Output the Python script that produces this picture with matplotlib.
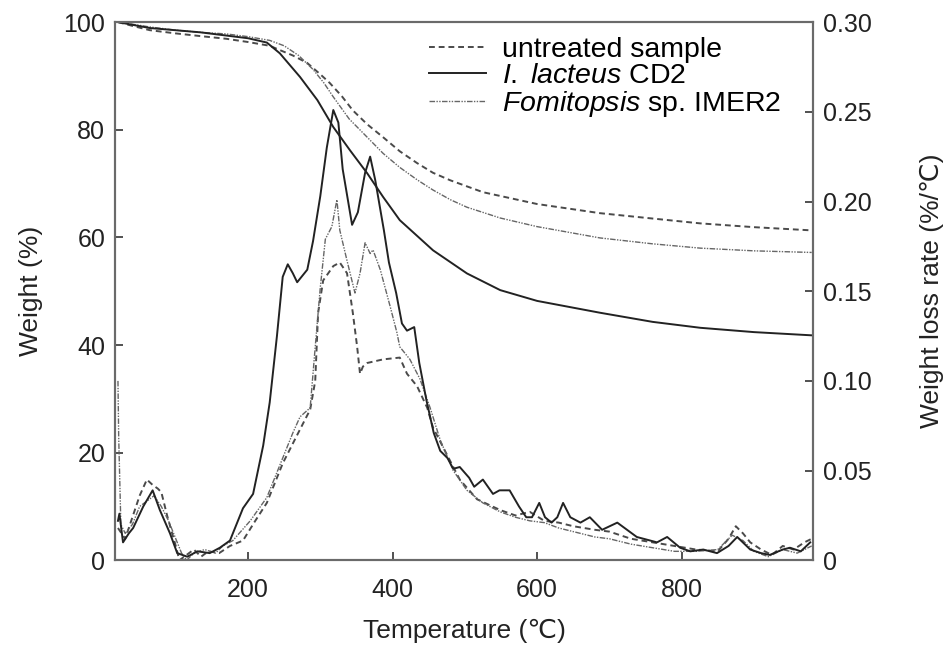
import matplotlib
matplotlib.use('Agg')
import matplotlib.pyplot as plt
from matplotlib.lines import Line2D

plt.rcParams['font.family'] = ['Liberation Sans', 'DejaVu Sans']
plt.rcParams['mathtext.fontset'] = 'custom'
plt.rcParams['mathtext.it'] = 'Liberation Sans:italic'
plt.rcParams['mathtext.rm'] = 'Liberation Sans'

# --- TG curves (weight %) ---
tg_raw_t = [20, 40, 64, 100, 134, 170, 200, 230, 244, 262, 282, 300, 313, 330, 345, 365,
            387, 410, 434, 456, 480, 525, 600, 687, 760, 826, 900, 980]
tg_raw_w = [100, 99.3, 98.5, 97.9, 97.4, 96.9, 96.3, 95.6, 94.8, 93.8, 92.4, 90.3, 88.7,
            86.2, 83.6, 81.0, 78.6, 76.0, 73.8, 72.0, 70.6, 68.4, 66.2, 64.5, 63.5, 62.6,
            61.9, 61.3]

tg_il_t = [20, 64, 134, 200, 226, 244, 272, 296, 318, 341, 365, 387, 410, 456, 503, 549,
           600, 687, 760, 826, 900, 980]
tg_il_w = [100, 98.9, 98.1, 97.0, 96.2, 94.2, 89.8, 85.5, 80.5, 76.2, 71.9, 67.5, 63.2,
           57.6, 53.3, 50.2, 48.2, 46.0, 44.3, 43.2, 42.4, 41.8]

tg_fo_t = [20, 40, 64, 100, 134, 170, 200, 230, 250, 270, 290, 305, 318, 340, 365, 387,
           410, 434, 456, 480, 503, 549, 600, 687, 760, 826, 900, 980]
tg_fo_w = [100, 99.6, 99.1, 98.5, 98.1, 97.8, 97.3, 96.6, 95.6, 93.8, 91.2, 88.7, 86.1,
           82.0, 78.6, 75.6, 73.0, 70.7, 68.8, 67.0, 65.6, 63.6, 62.0, 59.9, 58.8, 58.0,
           57.5, 57.2]

# --- DTG curves (weight loss rate %/C) ---
dtg_raw_t = [20, 30, 40, 50, 60, 68, 75, 80, 88, 95, 100, 105, 115, 125, 135, 145, 160,
             175, 193, 210, 226, 248, 272, 286, 293, 297, 304, 318, 327, 337, 345, 351,
             355, 359, 365, 387, 410, 420, 434, 448, 456, 470, 493, 517, 549, 570, 590,
             610, 630, 650, 680, 700, 730, 760, 790, 820, 850, 865, 875, 885, 895, 910,
             925, 940, 955, 970, 980]
dtg_raw_r = [0.018, 0.012, 0.024, 0.036, 0.045, 0.042, 0.040, 0.038, 0.025, 0.015, 0.008,
             0.000, 0.003, 0.006, 0.002, 0.005, 0.004, 0.008, 0.011, 0.022, 0.032, 0.054,
             0.073, 0.084, 0.100, 0.138, 0.156, 0.164, 0.166, 0.160, 0.138, 0.119, 0.104,
             0.108, 0.110, 0.112, 0.113, 0.104, 0.097, 0.085, 0.074, 0.063, 0.045, 0.034,
             0.028, 0.025, 0.027, 0.022, 0.021, 0.019, 0.017, 0.016, 0.012, 0.010, 0.008,
             0.006, 0.005, 0.012, 0.019, 0.015, 0.010, 0.006, 0.003, 0.008, 0.006, 0.010,
             0.012]

dtg_il_t = [20, 22, 27, 35, 41, 55, 68, 78, 92, 102, 116, 130, 147, 161, 175, 193, 207,
            221, 230, 240, 248, 255, 262, 268, 282, 290, 300, 309, 318, 325, 331, 344,
            352, 362, 369, 376, 388, 395, 405, 413, 420, 430, 437, 447, 457, 466, 476,
            484, 493, 506, 513, 525, 539, 548, 562, 575, 585, 593, 603, 611, 620, 628,
            636, 646, 660, 673, 690, 711, 738, 766, 780, 798, 812, 830, 849, 865, 877,
            895, 910, 922, 940, 950, 965, 978]
dtg_il_r = [0.022, 0.026, 0.010, 0.015, 0.018, 0.030, 0.039, 0.028, 0.015, 0.004, 0.002,
            0.005, 0.004, 0.007, 0.011, 0.029, 0.037, 0.064, 0.088, 0.125, 0.158, 0.165,
            0.160, 0.155, 0.162, 0.178, 0.203, 0.230, 0.251, 0.244, 0.218, 0.187, 0.194,
            0.216, 0.225, 0.212, 0.184, 0.166, 0.149, 0.132, 0.128, 0.130, 0.110, 0.089,
            0.071, 0.061, 0.057, 0.051, 0.052, 0.046, 0.041, 0.045, 0.037, 0.039, 0.039,
            0.030, 0.024, 0.024, 0.032, 0.024, 0.021, 0.024, 0.032, 0.024, 0.021, 0.024,
            0.017, 0.021, 0.013, 0.010, 0.013, 0.007, 0.005, 0.006, 0.004, 0.008, 0.013,
            0.006, 0.004, 0.003, 0.006, 0.007, 0.005, 0.010]

dtg_fo_t = [20, 21, 24, 30, 40, 50, 60, 70, 80, 90, 100, 108, 115, 125, 140, 155, 165,
            179, 203, 226, 248, 262, 272, 286, 293, 300, 307, 316, 323, 327, 337, 348,
            355, 362, 369, 373, 383, 397, 406, 410, 424, 438, 452, 466, 484, 503, 525,
            549, 570, 590, 610, 630, 650, 680, 700, 730, 760, 790, 820, 850, 870, 885,
            900, 920, 940, 960, 980]
dtg_fo_r = [0.100, 0.069, 0.020, 0.015, 0.020, 0.030, 0.033, 0.036, 0.030, 0.022, 0.012,
            0.004, 0.000, 0.004, 0.006, 0.004, 0.008, 0.011, 0.022, 0.035, 0.057, 0.071,
            0.080, 0.085, 0.119, 0.152, 0.179, 0.186, 0.201, 0.184, 0.167, 0.149, 0.160,
            0.177, 0.171, 0.173, 0.162, 0.141, 0.127, 0.119, 0.112, 0.101, 0.085, 0.067,
            0.050, 0.039, 0.032, 0.027, 0.024, 0.022, 0.021, 0.018, 0.016, 0.013, 0.012,
            0.009, 0.007, 0.005, 0.005, 0.006, 0.014, 0.011, 0.005, 0.002, 0.006, 0.004,
            0.008]

labels = ['untreated sample', r'$I.\ lacteus$ CD2', r'$Fomitopsis$ sp. IMER2']

sty_raw = dict(color='#4a4a4a', lw=1.4, ls=(0, (3, 2)))
sty_il = dict(color='#222222', lw=1.4, ls='-')
sty_fo = dict(color='#666666', lw=1.0, ls=(0, (4, 1, 1, 1, 1, 1)))

fig = plt.figure(figsize=(9.51, 6.5), dpi=100)
ax = fig.add_axes([0.121, 0.138, 0.734, 0.828])
ax2 = ax.twinx()

ax.plot(tg_raw_t, tg_raw_w, **sty_raw)
ax.plot(tg_fo_t, tg_fo_w, **sty_fo)
ax.plot(tg_il_t, tg_il_w, **sty_il)

ax2.plot(dtg_raw_t, dtg_raw_r, **sty_raw)
ax2.plot(dtg_fo_t, dtg_fo_r, **sty_fo)
ax2.plot(dtg_il_t, dtg_il_r, **sty_il)

ax.set_xlim(16, 982)
ax.set_ylim(0, 100)
ax2.set_ylim(0, 0.30)
ax.set_xticks([200, 400, 600, 800])
ax.set_yticks([0, 20, 40, 60, 80, 100])
ax2.set_yticks([0, 0.05, 0.10, 0.15, 0.20, 0.25, 0.30])
ax2.set_yticklabels(['0', '0.05', '0.10', '0.15', '0.20', '0.25', '0.30'])

for a in (ax, ax2):
    for s in a.spines.values():
        s.set_color('#6a6a6a')
        s.set_linewidth(1.5)
    a.tick_params(direction='in', length=6, width=1.2, color='#333333',
                  labelsize=18, pad=7, labelcolor='#222222')
ax.tick_params(axis='x', pad=13)

ax.set_xlabel('Temperature (℃)', fontsize=19, labelpad=12, color='#222222')
ax.set_ylabel('Weight (%)', fontsize=19, labelpad=15, color='#222222')
ax2.set_ylabel('Weight loss rate (%/℃)', fontsize=19, labelpad=35, color='#222222')

handles = [Line2D([], [], **sty_raw), Line2D([], [], **sty_il), Line2D([], [], **sty_fo)]
ax2.legend(handles, labels, loc='upper right', bbox_to_anchor=(0.985, 1.012),
           frameon=False, fontsize=20.5, handlelength=2.0, labelspacing=0.0,
           handletextpad=0.55, borderpad=0.25)

fig.savefig('out.png', dpi=100)
